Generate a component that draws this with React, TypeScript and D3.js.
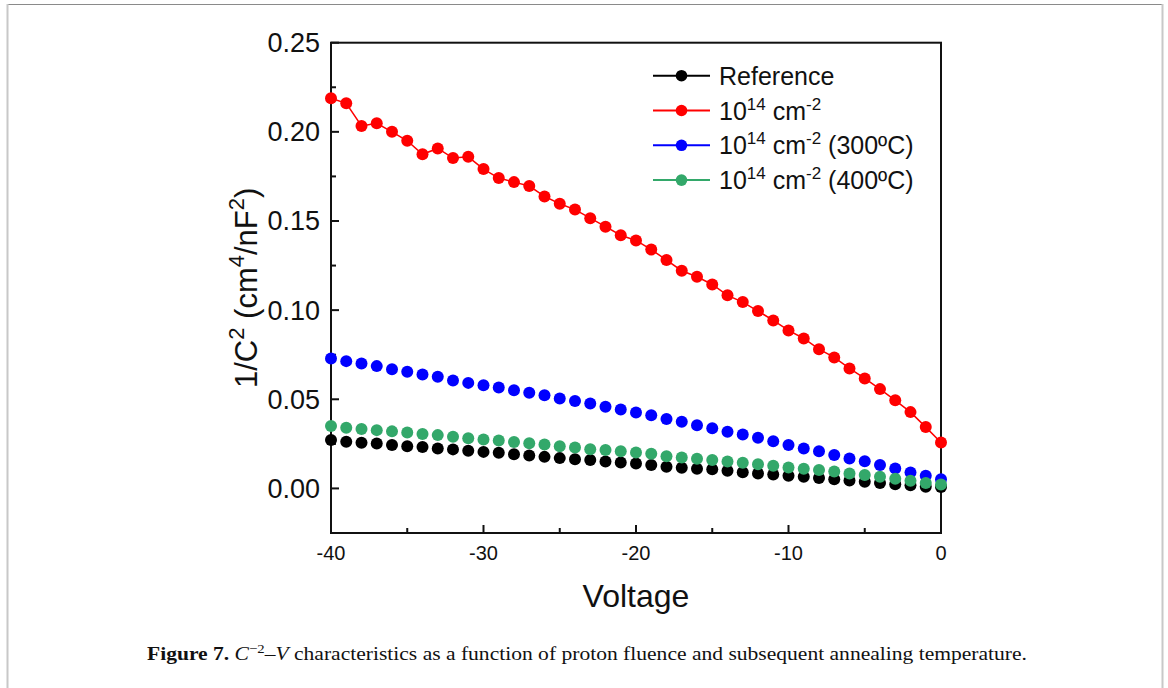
import * as d3 from 'd3';
import React, { useEffect, useRef } from 'react';

// bias voltage, -40 V .. 0 V in 1 V steps
const voltages = d3.range(-40, 1, 1);

const reference = [
  0.0271, 0.0262, 0.0256, 0.0252, 0.0243, 0.0237, 0.0232, 0.0224, 0.0219, 0.0211,
  0.0205, 0.0200, 0.0192, 0.0185, 0.0177, 0.0170, 0.0164, 0.0159, 0.0151, 0.0146,
  0.0140, 0.0132, 0.0121, 0.0116, 0.0110, 0.0107, 0.0099, 0.0091, 0.0084, 0.0078,
  0.0071, 0.0065, 0.0058, 0.0052, 0.0045, 0.0037, 0.0031, 0.0024, 0.0018, 0.0010,
  0.0008,
];

const fluence = [
  0.2188, 0.2160, 0.2033, 0.2048, 0.2000, 0.1950, 0.1874, 0.1907, 0.1853, 0.1860,
  0.1791, 0.1741, 0.1718, 0.1696, 0.1638, 0.1597, 0.1564, 0.1516, 0.1468, 0.1420,
  0.1391, 0.1340, 0.1281, 0.1221, 0.1187, 0.1144, 0.1083, 0.1045, 0.0995, 0.0942,
  0.0886, 0.0841, 0.0781, 0.0735, 0.0673, 0.0617, 0.0557, 0.0494, 0.0428, 0.0344,
  0.0258,
];

const anneal300 = [
  0.0729, 0.0714, 0.0701, 0.0686, 0.0669, 0.0654, 0.0639, 0.0626, 0.0606, 0.0592,
  0.0579, 0.0566, 0.0551, 0.0536, 0.0523, 0.0505, 0.0491, 0.0477, 0.0458, 0.0443,
  0.0426, 0.0411, 0.0389, 0.0374, 0.0355, 0.0337, 0.0318, 0.0303, 0.0284, 0.0265,
  0.0243, 0.0224, 0.0209, 0.0187, 0.0168, 0.0153, 0.0131, 0.0112, 0.0090, 0.0071,
  0.0052,
];

const anneal400 = [
  0.0350, 0.0340, 0.0333, 0.0327, 0.0320, 0.0314, 0.0305, 0.0299, 0.0290, 0.0281,
  0.0275, 0.0269, 0.0261, 0.0254, 0.0247, 0.0237, 0.0230, 0.0220, 0.0215, 0.0208,
  0.0202, 0.0194, 0.0181, 0.0174, 0.0166, 0.0159, 0.0151, 0.0144, 0.0136, 0.0127,
  0.0118, 0.0110, 0.0103, 0.0095, 0.0084, 0.0075, 0.0065, 0.0054, 0.0043, 0.0031,
  0.0022,
];

const xTicks = [-40, -30, -20, -10, 0];
const yTicks = [0, 0.05, 0.1, 0.15, 0.2, 0.25];

const series = [
  { key: 'ref', values: reference, color: '#000000', line: false, label: 'Reference', suffix: null },
  { key: 'flu', values: fluence, color: '#ff0000', line: true, label: null, suffix: '' },
  { key: 'a300', values: anneal300, color: '#0000ff', line: false, label: null, suffix: ' (300ºC)' },
  { key: 'a400', values: anneal400, color: '#33a86a', line: false, label: null, suffix: ' (400ºC)' },
];

const font = '"Liberation Sans", Arial, sans-serif';

const App = () => {
  const svgRef = useRef(null);

  useEffect(() => {
    const svg = d3.select(svgRef.current);
    svg.selectAll('*').remove();

    const left = 331, right = 941, top = 42.7, bottom = 533;

    // page frame
    svg.append('line').attr('x1', 7).attr('x2', 1163).attr('y1', 4.5).attr('y2', 4.5)
      .attr('stroke', '#8a8a8a').attr('stroke-width', 1);
    svg.append('line').attr('x1', 7.5).attr('x2', 7.5).attr('y1', 4).attr('y2', 688)
      .attr('stroke', '#c8c8c8').attr('stroke-width', 2);
    svg.append('line').attr('x1', 1162.5).attr('x2', 1162.5).attr('y1', 4).attr('y2', 688)
      .attr('stroke', '#c8c8c8').attr('stroke-width', 2);

    const x = d3.scaleLinear().domain([-40, 0]).range([left, right]);
    const y = d3.scaleLinear().domain([-0.025, 0.25]).range([bottom, top]);

    const g = svg.append('g');

    // x axis ticks (inward)
    g.selectAll('.xmaj').data(xTicks).enter().append('line')
      .attr('x1', d => x(d)).attr('x2', d => x(d))
      .attr('y1', bottom).attr('y2', bottom - 8)
      .attr('stroke', '#111').attr('stroke-width', 2);
    g.selectAll('.xmin').data(d3.range(-35, 0, 10)).enter().append('line')
      .attr('x1', d => x(d)).attr('x2', d => x(d))
      .attr('y1', bottom).attr('y2', bottom - 5)
      .attr('stroke', '#111').attr('stroke-width', 2);
    g.selectAll('.xlab').data(xTicks).enter().append('text')
      .attr('x', d => x(d)).attr('y', 560)
      .attr('text-anchor', 'middle')
      .attr('font-family', font).attr('font-size', 20).attr('fill', '#111')
      .text(d => d3.format('d')(d).replace('−', '-'));

    // y axis ticks (inward)
    g.selectAll('.ymaj').data(yTicks).enter().append('line')
      .attr('x1', left).attr('x2', left + 8)
      .attr('y1', d => y(d)).attr('y2', d => y(d))
      .attr('stroke', '#111').attr('stroke-width', 2);
    g.selectAll('.ymin').data([0.025, 0.075, 0.125, 0.175, 0.225]).enter().append('line')
      .attr('x1', left).attr('x2', left + 5)
      .attr('y1', d => y(d)).attr('y2', d => y(d))
      .attr('stroke', '#111').attr('stroke-width', 2);
    g.selectAll('.ylab').data(yTicks).enter().append('text')
      .attr('x', 320).attr('y', d => y(d) + 9.5)
      .attr('text-anchor', 'end')
      .attr('font-family', font).attr('font-size', 27).attr('fill', '#111')
      .text(d => d3.format('.2f')(d));

    // frame
    g.append('rect')
      .attr('x', left).attr('y', top)
      .attr('width', right - left).attr('height', bottom - top)
      .attr('fill', 'none').attr('stroke', '#111').attr('stroke-width', 2);

    // data
    series.forEach(s => {
      const pts = voltages.map((v, i) => ({ v, c: s.values[i] }));
      if (s.line) {
        g.append('path')
          .datum(pts)
          .attr('fill', 'none')
          .attr('stroke', s.color)
          .attr('stroke-width', 1.5)
          .attr('d', d3.line().x(d => x(d.v)).y(d => y(d.c)));
      }
      g.selectAll('.pt-' + s.key).data(pts).enter().append('circle')
        .attr('cx', d => x(d.v)).attr('cy', d => y(d.c))
        .attr('r', 6).attr('fill', s.color);
    });

    // legend
    const lg = svg.append('g');
    series.forEach((s, i) => {
      const ly = 75.7 + i * 34.8;
      lg.append('line').attr('x1', 653).attr('x2', 710).attr('y1', ly).attr('y2', ly)
        .attr('stroke', s.color).attr('stroke-width', 2);
      lg.append('circle').attr('cx', 681.5).attr('cy', ly).attr('r', 5.8).attr('fill', s.color);
      const t = lg.append('text').attr('x', 719).attr('y', ly + 9)
        .attr('font-family', font).attr('font-size', 25).attr('fill', '#111');
      if (s.label) {
        t.text(s.label);
      } else {
        t.append('tspan').text('10');
        t.append('tspan').attr('font-size', 17).attr('dy', -10).text('14');
        t.append('tspan').attr('dy', 10).text(' cm');
        t.append('tspan').attr('font-size', 17).attr('dy', -10).text('-2');
        t.append('tspan').attr('dy', 10).text(s.suffix);
      }
    });

    // axis titles
    svg.append('text')
      .attr('x', (left + right) / 2).attr('y', 606.5)
      .attr('text-anchor', 'middle')
      .attr('font-family', font).attr('font-size', 32).attr('fill', '#111')
      .text('Voltage');

    const yt = svg.append('text')
      .attr('transform', `translate(257,${(top + bottom) / 2}) rotate(-90)`)
      .attr('text-anchor', 'middle')
      .attr('font-family', font).attr('font-size', 31).attr('fill', '#111');
    yt.append('tspan').text('1/C');
    yt.append('tspan').attr('font-size', 22).attr('dy', -13).text('2');
    yt.append('tspan').attr('dy', 13).text(' (cm');
    yt.append('tspan').attr('font-size', 22).attr('dy', -13).text('4');
    yt.append('tspan').attr('dy', 13).text('/nF');
    yt.append('tspan').attr('font-size', 22).attr('dy', -13).text('2');
    yt.append('tspan').attr('dy', 13).text(')');

    // caption
    const cap = svg.append('text')
      .attr('x', 147).attr('y', 660)
      .attr('font-family', '"Liberation Serif", "Times New Roman", serif')
      .attr('font-size', 19).attr('fill', '#111')
      .attr('textLength', 880).attr('lengthAdjust', 'spacingAndGlyphs');
    cap.append('tspan').attr('font-weight', 'bold').text('Figure 7. ');
    cap.append('tspan').attr('font-style', 'italic').text('C');
    cap.append('tspan').attr('font-size', 13).attr('dy', -7).text('−2');
    cap.append('tspan').attr('dy', 7).text('–');
    cap.append('tspan').attr('font-style', 'italic').text('V');
    cap.append('tspan').text(' characteristics as a function of proton fluence and subsequent annealing temperature.');
  }, []);

  return (
    <svg
      ref={svgRef}
      width={1168}
      height={688}
      style={{ position: 'absolute', left: 0, top: 0, background: '#fff' }}
    />
  );
};

export default App;
